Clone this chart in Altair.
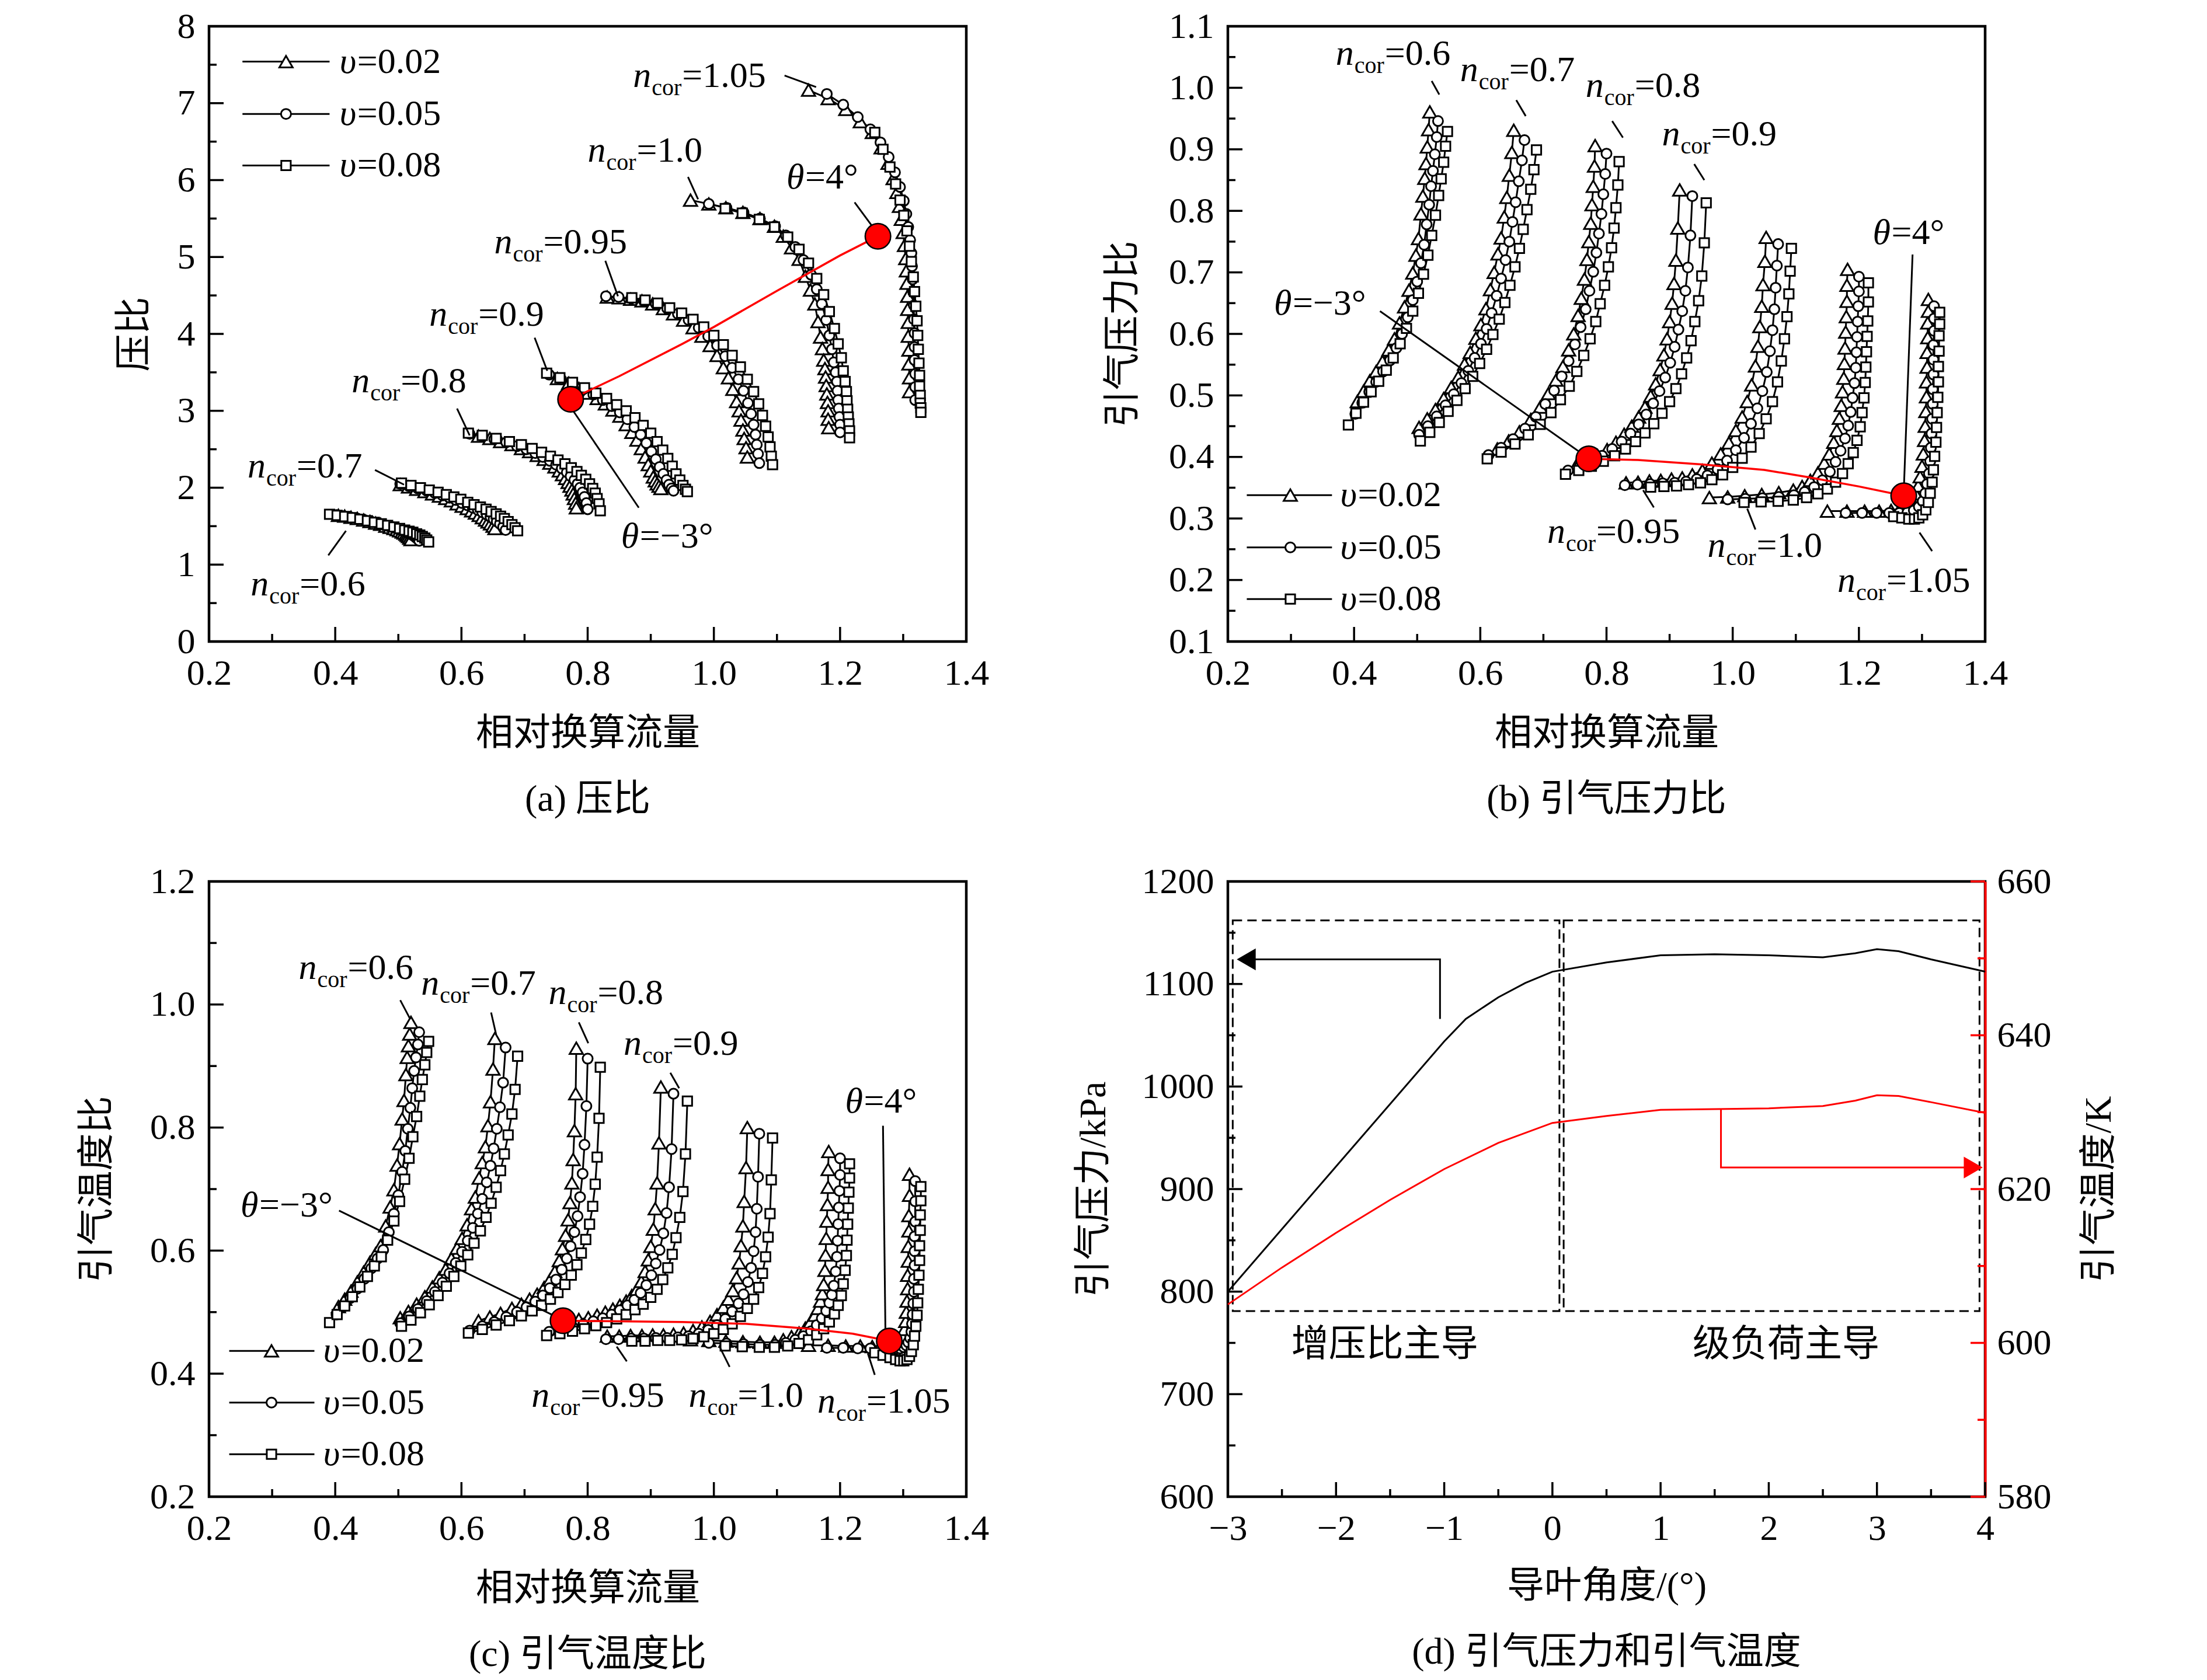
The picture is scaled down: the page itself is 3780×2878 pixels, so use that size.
import altair as alt
import pandas as pd

SERIF = "Liberation Serif"
MIXED = "Liberation Serif, Noto Sans CJK SC"
W, H = 1297, 1054
RED = "#ff0000"

# ------------------------------------------------------------------
# Speed lines.  X = relative corrected flow,
# PR = pressure ratio (a), BPR = bleed pressure ratio (b),
# BTR = bleed temperature ratio (c).  Suffix: n_cor and bleed ratio v.
# ------------------------------------------------------------------
X_060_002 = [0.405,0.415,0.425,0.435,0.445,0.455,0.464,0.472,0.480,0.487,0.493,0.498,0.502,0.506,0.509,0.512,0.514,0.516,0.518,0.520]
PR_060_002 = [1.64,1.63,1.615,1.60,1.58,1.56,1.54,1.525,1.50,1.485,1.47,1.455,1.44,1.425,1.41,1.395,1.38,1.365,1.345,1.325]
BPR_060_002 = [0.490,0.507,0.524,0.539,0.555,0.574,0.592,0.618,0.644,0.671,0.699,0.728,0.755,0.795,0.824,0.853,0.877,0.904,0.932,0.961]
BTR_060_002 = [0.509,0.521,0.534,0.549,0.565,0.581,0.595,0.608,0.640,0.671,0.699,0.739,0.774,0.814,0.844,0.886,0.914,0.933,0.952,0.971]
X_060_005 = [0.402,0.413,0.424,0.435,0.446,0.457,0.467,0.476,0.485,0.493,0.500,0.506,0.511,0.515,0.519,0.522,0.525,0.528,0.531,0.533]
PR_060_005 = [1.645,1.63,1.615,1.60,1.58,1.56,1.54,1.52,1.50,1.48,1.46,1.445,1.43,1.415,1.40,1.385,1.37,1.35,1.33,1.31]
BPR_060_005 = [0.470,0.488,0.506,0.522,0.539,0.557,0.577,0.600,0.627,0.655,0.685,0.715,0.745,0.778,0.810,0.840,0.865,0.892,0.920,0.946]
BTR_060_005 = [0.496,0.509,0.523,0.538,0.554,0.571,0.587,0.601,0.630,0.660,0.690,0.728,0.762,0.798,0.832,0.864,0.892,0.914,0.935,0.955]
X_060_008 = [0.391,0.403,0.415,0.427,0.439,0.451,0.462,0.473,0.483,0.493,0.502,0.510,0.517,0.523,0.529,0.534,0.538,0.542,0.545,0.548]
PR_060_008 = [1.655,1.64,1.625,1.61,1.59,1.57,1.55,1.53,1.51,1.49,1.47,1.45,1.435,1.42,1.40,1.385,1.365,1.345,1.32,1.295]
BPR_060_008 = [0.452,0.471,0.489,0.506,0.523,0.541,0.561,0.584,0.609,0.637,0.666,0.697,0.728,0.760,0.793,0.825,0.852,0.879,0.905,0.929]
BTR_060_008 = [0.483,0.496,0.510,0.525,0.541,0.558,0.575,0.590,0.617,0.648,0.680,0.716,0.750,0.785,0.818,0.851,0.878,0.902,0.922,0.940]

X_070_002 = [0.503,0.516,0.529,0.542,0.554,0.565,0.575,0.584,0.593,0.601,0.609,0.616,0.622,0.628,0.633,0.638,0.642,0.646,0.650,0.653]
PR_070_002 = [2.04,2.01,1.98,1.95,1.92,1.89,1.86,1.83,1.79,1.76,1.73,1.70,1.67,1.64,1.61,1.58,1.555,1.53,1.50,1.47]
BPR_070_002 = [0.448,0.462,0.477,0.495,0.513,0.530,0.551,0.570,0.593,0.615,0.641,0.672,0.700,0.730,0.756,0.790,0.822,0.858,0.895,0.931]
BTR_070_002 = [0.491,0.501,0.513,0.525,0.541,0.556,0.570,0.587,0.604,0.620,0.642,0.668,0.687,0.718,0.743,0.769,0.803,0.842,0.895,0.945]
X_070_005 = [0.503,0.517,0.531,0.545,0.558,0.570,0.581,0.591,0.601,0.610,0.618,0.626,0.633,0.640,0.646,0.651,0.656,0.661,0.666,0.670]
PR_070_005 = [2.05,2.02,1.99,1.96,1.93,1.90,1.87,1.84,1.80,1.77,1.74,1.71,1.68,1.65,1.62,1.59,1.56,1.53,1.49,1.45]
BPR_070_005 = [0.436,0.450,0.466,0.484,0.502,0.520,0.540,0.561,0.584,0.608,0.634,0.662,0.690,0.720,0.750,0.782,0.814,0.848,0.882,0.915]
BTR_070_005 = [0.482,0.493,0.505,0.518,0.533,0.548,0.563,0.580,0.598,0.616,0.637,0.660,0.684,0.711,0.738,0.766,0.798,0.833,0.873,0.930]
X_070_008 = [0.505,0.520,0.535,0.549,0.563,0.576,0.588,0.599,0.610,0.620,0.630,0.639,0.647,0.655,0.662,0.668,0.674,0.680,0.685,0.689]
PR_070_008 = [2.06,2.03,2.00,1.97,1.94,1.91,1.88,1.85,1.81,1.78,1.75,1.72,1.69,1.66,1.63,1.60,1.56,1.52,1.48,1.44]
BPR_070_008 = [0.426,0.440,0.456,0.474,0.492,0.511,0.531,0.552,0.575,0.599,0.624,0.651,0.679,0.709,0.739,0.770,0.802,0.835,0.867,0.899]
BTR_070_008 = [0.477,0.487,0.499,0.512,0.527,0.542,0.558,0.575,0.593,0.612,0.632,0.654,0.677,0.703,0.730,0.757,0.788,0.822,0.862,0.916]

X_080_002 = [0.627,0.645,0.662,0.680,0.695,0.708,0.720,0.731,0.740,0.748,0.755,0.760,0.765,0.769,0.772,0.775,0.777,0.779,0.781,0.782]
PR_080_002 = [2.67,2.64,2.60,2.56,2.51,2.47,2.42,2.37,2.32,2.27,2.22,2.17,2.12,2.07,2.02,1.97,1.92,1.86,1.80,1.74]
BPR_080_002 = [0.413,0.426,0.441,0.461,0.481,0.503,0.525,0.547,0.574,0.600,0.630,0.658,0.689,0.721,0.750,0.780,0.810,0.840,0.873,0.906]
BTR_080_002 = [0.486,0.492,0.498,0.506,0.513,0.521,0.529,0.540,0.552,0.566,0.584,0.603,0.625,0.650,0.678,0.710,0.748,0.795,0.855,0.929]
X_080_005 = [0.613,0.633,0.652,0.671,0.688,0.703,0.717,0.729,0.740,0.750,0.759,0.767,0.773,0.779,0.784,0.788,0.792,0.795,0.798,0.800]
PR_080_005 = [2.70,2.67,2.63,2.59,2.54,2.50,2.45,2.40,2.35,2.30,2.25,2.20,2.15,2.10,2.05,2.00,1.94,1.88,1.80,1.72]
BPR_080_005 = [0.403,0.415,0.429,0.446,0.465,0.486,0.508,0.531,0.556,0.583,0.611,0.640,0.670,0.701,0.732,0.763,0.795,0.827,0.860,0.893]
BTR_080_005 = [0.470,0.477,0.484,0.492,0.500,0.508,0.517,0.527,0.539,0.553,0.569,0.587,0.607,0.630,0.656,0.687,0.725,0.772,0.835,0.912]
X_080_008 = [0.611,0.633,0.655,0.676,0.695,0.712,0.727,0.741,0.753,0.764,0.774,0.783,0.790,0.797,0.803,0.808,0.812,0.815,0.818,0.820]
PR_080_008 = [2.71,2.68,2.64,2.60,2.56,2.51,2.46,2.41,2.36,2.31,2.26,2.21,2.16,2.11,2.05,1.99,1.93,1.86,1.79,1.70]
BPR_080_008 = [0.397,0.408,0.421,0.436,0.453,0.472,0.493,0.515,0.539,0.565,0.592,0.620,0.649,0.679,0.709,0.740,0.772,0.805,0.842,0.880]
BTR_080_008 = [0.466,0.472,0.479,0.486,0.494,0.502,0.511,0.521,0.532,0.545,0.560,0.577,0.596,0.618,0.643,0.672,0.708,0.752,0.815,0.898]

X_090_002 = [0.752,0.770,0.786,0.801,0.815,0.828,0.840,0.851,0.861,0.870,0.878,0.885,0.891,0.896,0.900,0.904,0.907,0.910,0.913,0.916]
PR_090_002 = [3.42,3.36,3.29,3.23,3.16,3.09,3.01,2.93,2.82,2.72,2.62,2.51,2.40,2.30,2.22,2.14,2.09,2.05,2.02,1.99]
BPR_090_002 = [0.386,0.395,0.402,0.412,0.424,0.437,0.450,0.465,0.481,0.499,0.519,0.542,0.566,0.592,0.620,0.650,0.682,0.720,0.772,0.834]
BTR_090_002 = [0.482,0.485,0.488,0.491,0.495,0.500,0.505,0.511,0.518,0.527,0.537,0.550,0.566,0.585,0.607,0.635,0.668,0.710,0.775,0.866]
X_090_005 = [0.739,0.758,0.776,0.793,0.809,0.824,0.838,0.851,0.863,0.874,0.884,0.893,0.901,0.908,0.914,0.920,0.925,0.929,0.933,0.936]
PR_090_005 = [3.47,3.41,3.35,3.28,3.21,3.14,3.06,2.98,2.89,2.79,2.69,2.58,2.47,2.37,2.27,2.18,2.10,2.04,1.99,1.96]
BPR_090_005 = [0.378,0.385,0.393,0.402,0.413,0.425,0.438,0.453,0.469,0.487,0.507,0.529,0.553,0.579,0.607,0.637,0.670,0.708,0.760,0.824]
BTR_090_005 = [0.468,0.472,0.476,0.480,0.485,0.490,0.496,0.503,0.511,0.520,0.531,0.544,0.560,0.579,0.601,0.628,0.661,0.703,0.765,0.855]
X_090_008 = [0.735,0.756,0.776,0.795,0.813,0.830,0.846,0.861,0.875,0.888,0.900,0.910,0.919,0.927,0.934,0.940,0.946,0.951,0.955,0.958]
PR_090_008 = [3.49,3.43,3.37,3.30,3.23,3.16,3.08,3.00,2.91,2.81,2.71,2.60,2.49,2.38,2.28,2.18,2.10,2.03,1.98,1.95]
BPR_090_008 = [0.372,0.378,0.385,0.393,0.402,0.413,0.425,0.439,0.454,0.471,0.490,0.511,0.535,0.561,0.589,0.620,0.654,0.694,0.748,0.813]
BTR_090_008 = [0.462,0.465,0.469,0.473,0.478,0.483,0.489,0.496,0.504,0.513,0.524,0.537,0.553,0.572,0.594,0.621,0.654,0.696,0.757,0.843]

X_095_002 = [0.831,0.850,0.868,0.886,0.903,0.920,0.936,0.952,0.967,0.981,0.994,1.005,1.015,1.023,1.030,1.036,1.040,1.043,1.046,1.048,1.051,1.053]
PR_095_002 = [4.48,4.47,4.45,4.43,4.39,4.33,4.26,4.18,4.08,3.97,3.85,3.72,3.56,3.43,3.28,3.12,3.00,2.88,2.75,2.64,2.52,2.40]
BPR_095_002 = [0.358,0.359,0.361,0.362,0.364,0.366,0.371,0.378,0.390,0.405,0.423,0.443,0.465,0.490,0.517,0.548,0.580,0.612,0.645,0.680,0.718,0.757]
BTR_095_002 = [0.461,0.461,0.462,0.462,0.463,0.463,0.464,0.466,0.470,0.476,0.485,0.496,0.508,0.521,0.535,0.556,0.580,0.608,0.640,0.680,0.735,0.800]
X_095_005 = [0.829,0.849,0.869,0.889,0.908,0.926,0.943,0.960,0.976,0.991,1.005,1.018,1.029,1.039,1.047,1.054,1.059,1.063,1.066,1.068,1.070,1.072]
PR_095_005 = [4.49,4.48,4.46,4.43,4.39,4.33,4.26,4.18,4.08,3.97,3.85,3.71,3.56,3.41,3.26,3.10,2.96,2.82,2.69,2.56,2.44,2.32]
BPR_095_005 = [0.354,0.355,0.356,0.357,0.358,0.360,0.364,0.370,0.380,0.394,0.411,0.431,0.454,0.479,0.507,0.538,0.572,0.606,0.640,0.675,0.711,0.746]
BTR_095_005 = [0.456,0.456,0.457,0.457,0.458,0.458,0.459,0.461,0.465,0.471,0.479,0.489,0.501,0.514,0.529,0.549,0.572,0.599,0.630,0.668,0.720,0.790]
X_095_008 = [0.870,0.891,0.911,0.930,0.949,0.967,0.984,1.000,1.015,1.029,1.042,1.053,1.063,1.071,1.077,1.082,1.086,1.089,1.091,1.093]
PR_095_008 = [4.47,4.44,4.40,4.34,4.27,4.19,4.09,3.98,3.86,3.72,3.57,3.41,3.25,3.09,2.94,2.80,2.66,2.53,2.41,2.30]
BPR_095_008 = [0.351,0.352,0.353,0.355,0.358,0.363,0.371,0.383,0.398,0.416,0.438,0.462,0.490,0.522,0.556,0.592,0.628,0.665,0.702,0.739]
BTR_095_008 = [0.453,0.453,0.454,0.454,0.455,0.457,0.460,0.465,0.472,0.481,0.493,0.506,0.521,0.540,0.563,0.590,0.622,0.660,0.715,0.783]

X_100_002 = [0.963,0.992,1.019,1.046,1.073,1.096,1.110,1.123,1.135,1.145,1.153,1.160,1.165,1.169,1.172,1.174,1.176,1.177,1.178,1.179,1.180,1.181,1.181,1.182]
PR_100_002 = [5.74,5.69,5.64,5.58,5.50,5.40,5.27,5.12,4.97,4.75,4.57,4.39,4.16,3.96,3.81,3.66,3.55,3.44,3.33,3.22,3.11,3.00,2.89,2.78]
BPR_100_002 = [0.334,0.335,0.337,0.339,0.342,0.346,0.352,0.362,0.374,0.390,0.405,0.424,0.443,0.463,0.484,0.506,0.528,0.552,0.577,0.603,0.628,0.653,0.679,0.705]
BTR_100_002 = [0.455,0.454,0.453,0.452,0.451,0.451,0.455,0.460,0.466,0.474,0.484,0.495,0.506,0.518,0.530,0.545,0.568,0.593,0.620,0.648,0.675,0.703,0.732,0.761]
X_100_005 = [0.992,1.020,1.047,1.073,1.097,1.114,1.129,1.142,1.154,1.163,1.171,1.178,1.183,1.187,1.190,1.193,1.195,1.196,1.197,1.198,1.199,1.200,1.200]
PR_100_005 = [5.69,5.64,5.58,5.50,5.40,5.28,5.13,4.96,4.77,4.58,4.39,4.18,3.98,3.80,3.63,3.50,3.38,3.26,3.14,3.03,2.92,2.82,2.72]
BPR_100_005 = [0.331,0.332,0.333,0.335,0.338,0.343,0.351,0.362,0.376,0.392,0.410,0.430,0.451,0.473,0.496,0.520,0.545,0.570,0.595,0.620,0.645,0.669,0.693]
BTR_100_005 = [0.450,0.449,0.448,0.447,0.447,0.450,0.455,0.461,0.469,0.479,0.490,0.502,0.515,0.528,0.543,0.566,0.590,0.616,0.643,0.670,0.697,0.723,0.750]
X_100_008 = [1.018,1.045,1.072,1.096,1.117,1.135,1.150,1.163,1.174,1.183,1.191,1.197,1.202,1.205,1.208,1.210,1.211,1.212,1.213,1.214,1.215,1.215]
PR_100_008 = [5.63,5.57,5.49,5.39,5.26,5.10,4.92,4.72,4.51,4.29,4.07,3.87,3.69,3.52,3.38,3.25,3.13,3.02,2.92,2.83,2.74,2.65]
BPR_100_008 = [0.326,0.327,0.328,0.330,0.334,0.340,0.348,0.359,0.373,0.389,0.407,0.427,0.449,0.472,0.496,0.521,0.546,0.571,0.596,0.621,0.652,0.683]
BTR_100_008 = [0.445,0.444,0.443,0.443,0.445,0.449,0.455,0.463,0.473,0.484,0.497,0.511,0.527,0.546,0.568,0.592,0.617,0.643,0.669,0.695,0.718,0.741]

X_105_002 = [1.150,1.181,1.209,1.232,1.251,1.265,1.276,1.284,1.290,1.294,1.297,1.300,1.302,1.304,1.305,1.306,1.307,1.307,1.308,1.308,1.309,1.309,1.310,1.310]
PR_105_002 = [7.17,7.06,6.92,6.76,6.62,6.42,6.22,6.02,5.84,5.66,5.49,5.32,5.15,4.98,4.82,4.66,4.49,4.32,4.15,3.97,3.79,3.61,3.43,3.25]
BPR_105_002 = [0.312,0.312,0.312,0.312,0.313,0.316,0.322,0.329,0.340,0.353,0.368,0.385,0.405,0.427,0.450,0.474,0.498,0.522,0.546,0.570,0.594,0.618,0.637,0.656]
BTR_105_002 = [0.446,0.446,0.445,0.445,0.444,0.444,0.444,0.445,0.447,0.450,0.455,0.462,0.472,0.485,0.500,0.518,0.538,0.560,0.583,0.607,0.632,0.657,0.690,0.724]
X_105_005 = [1.179,1.205,1.228,1.248,1.264,1.277,1.287,1.295,1.301,1.305,1.308,1.311,1.313,1.314,1.315,1.316,1.317,1.317,1.318,1.318,1.318,1.319,1.319,1.319]
PR_105_005 = [7.12,6.98,6.82,6.66,6.49,6.30,6.10,5.91,5.73,5.56,5.39,5.22,5.05,4.88,4.71,4.54,4.37,4.19,4.01,3.83,3.66,3.48,3.31,3.14]
BPR_105_005 = [0.309,0.309,0.309,0.309,0.309,0.310,0.313,0.319,0.328,0.341,0.356,0.373,0.393,0.415,0.438,0.462,0.486,0.510,0.534,0.558,0.582,0.605,0.625,0.645]
BTR_105_005 = [0.442,0.442,0.441,0.441,0.440,0.440,0.440,0.441,0.443,0.446,0.451,0.458,0.468,0.481,0.496,0.514,0.533,0.554,0.576,0.599,0.623,0.647,0.680,0.713]
X_105_008 = [1.255,1.268,1.279,1.288,1.295,1.301,1.306,1.310,1.313,1.316,1.318,1.320,1.322,1.323,1.324,1.325,1.326,1.326,1.327,1.327,1.328,1.328]
PR_105_008 = [6.62,6.40,6.17,5.95,5.74,5.54,5.34,5.14,4.94,4.74,4.55,4.36,4.17,3.98,3.80,3.62,3.46,3.32,3.20,3.10,3.04,2.98]
BPR_105_008 = [0.303,0.301,0.299,0.299,0.301,0.306,0.314,0.326,0.341,0.359,0.379,0.401,0.424,0.448,0.472,0.497,0.522,0.547,0.572,0.597,0.616,0.635]
BTR_105_008 = [0.434,0.430,0.426,0.423,0.421,0.421,0.423,0.428,0.436,0.447,0.461,0.477,0.495,0.515,0.537,0.560,0.584,0.608,0.633,0.658,0.681,0.704]

CURVES = [
    ("0.6", "0.02", X_060_002, PR_060_002, BPR_060_002, BTR_060_002),
    ("0.6", "0.05", X_060_005, PR_060_005, BPR_060_005, BTR_060_005),
    ("0.6", "0.08", X_060_008, PR_060_008, BPR_060_008, BTR_060_008),
    ("0.7", "0.02", X_070_002, PR_070_002, BPR_070_002, BTR_070_002),
    ("0.7", "0.05", X_070_005, PR_070_005, BPR_070_005, BTR_070_005),
    ("0.7", "0.08", X_070_008, PR_070_008, BPR_070_008, BTR_070_008),
    ("0.8", "0.02", X_080_002, PR_080_002, BPR_080_002, BTR_080_002),
    ("0.8", "0.05", X_080_005, PR_080_005, BPR_080_005, BTR_080_005),
    ("0.8", "0.08", X_080_008, PR_080_008, BPR_080_008, BTR_080_008),
    ("0.9", "0.02", X_090_002, PR_090_002, BPR_090_002, BTR_090_002),
    ("0.9", "0.05", X_090_005, PR_090_005, BPR_090_005, BTR_090_005),
    ("0.9", "0.08", X_090_008, PR_090_008, BPR_090_008, BTR_090_008),
    ("0.95", "0.02", X_095_002, PR_095_002, BPR_095_002, BTR_095_002),
    ("0.95", "0.05", X_095_005, PR_095_005, BPR_095_005, BTR_095_005),
    ("0.95", "0.08", X_095_008, PR_095_008, BPR_095_008, BTR_095_008),
    ("1.0", "0.02", X_100_002, PR_100_002, BPR_100_002, BTR_100_002),
    ("1.0", "0.05", X_100_005, PR_100_005, BPR_100_005, BTR_100_005),
    ("1.0", "0.08", X_100_008, PR_100_008, BPR_100_008, BTR_100_008),
    ("1.05", "0.02", X_105_002, PR_105_002, BPR_105_002, BTR_105_002),
    ("1.05", "0.05", X_105_005, PR_105_005, BPR_105_005, BTR_105_005),
    ("1.05", "0.08", X_105_008, PR_105_008, BPR_105_008, BTR_105_008),
]

# theta operating lines (red) and their end points
RED_A_X = [0.773, 0.85, 0.95, 1.0, 1.1, 1.2, 1.26]
RED_A_Y = [3.15, 3.45, 3.87, 4.09, 4.56, 5.02, 5.27]
RED_B_X = [0.772, 0.85, 0.95, 1.05, 1.12, 1.2, 1.271]
RED_B_Y = [0.397, 0.395, 0.388, 0.379, 0.367, 0.352, 0.337]
RED_C_X = [0.761, 0.85, 0.95, 1.05, 1.15, 1.22, 1.278]
RED_C_Y = [0.486, 0.485, 0.484, 0.481, 0.473, 0.465, 0.453]

# annotation labels (data coordinates)
NCOR_A_X = [0.872, 0.800, 0.652, 0.549, 0.426, 0.261, 0.266]
NCOR_A_Y = [7.21, 6.24, 5.05, 4.11, 3.24, 2.13, 0.60]
NCOR_A_T = ["=1.05", "=1.0", "=0.95", "=0.9", "=0.8", "=0.7", "=0.6"]
NCOR_B_X = [0.371, 0.568, 0.767, 0.888, 0.706, 0.960, 1.166]
NCOR_B_Y = [1.037, 1.011, 0.985, 0.906, 0.260, 0.238, 0.181]
NCOR_C_X = [0.342, 0.536, 0.738, 0.857, 0.711, 0.960, 1.164]
NCOR_C_Y = [1.042, 1.016, 1.001, 0.918, 0.346, 0.346, 0.337]
NCOR_BC_T = ["=0.6", "=0.7", "=0.8", "=0.9", "=0.95", "=1.0", "=1.05"]
THETA_T = ["=4°", "=−3°"]
THETA_A_X = [1.115, 0.853]
THETA_A_Y = [5.89, 1.22]
THETA_B_X = [1.222, 0.273]
THETA_B_Y = [0.746, 0.631]
THETA_C_X = [1.208, 0.250]
THETA_C_Y = [0.824, 0.655]

LEAD_A_X1 = [1.112, 0.959, 1.223, 0.828, 0.716, 0.593, 0.463, 0.389, 0.777]
LEAD_A_Y1 = [7.36, 6.04, 5.71, 4.95, 3.95, 3.03, 2.23, 1.12, 3.00]
LEAD_A_X2 = [1.162, 0.975, 1.251, 0.848, 0.736, 0.613, 0.509, 0.417, 0.881]
LEAD_A_Y2 = [7.21, 5.75, 5.40, 4.49, 3.52, 2.68, 2.04, 1.44, 1.74]
LEAD_B_X1 = [0.523, 0.657, 0.809, 0.939, 1.285, 0.441, 0.858, 1.023, 1.296]
LEAD_B_Y1 = [1.011, 0.980, 0.946, 0.876, 0.729, 0.637, 0.346, 0.316, 0.277]
LEAD_B_X2 = [0.535, 0.672, 0.826, 0.955, 1.271, 0.770, 0.875, 1.036, 1.316]
LEAD_B_Y2 = [0.989, 0.954, 0.919, 0.850, 0.342, 0.399, 0.318, 0.282, 0.247]
LEAD_C_X1 = [0.503, 0.647, 0.786, 0.931, 1.268, 0.406, 0.846, 1.009, 1.244]
LEAD_C_Y1 = [1.007, 0.987, 0.971, 0.889, 0.803, 0.665, 0.444, 0.444, 0.433]
LEAD_C_X2 = [0.519, 0.655, 0.801, 0.945, 1.272, 0.757, 0.862, 1.025, 1.255]
LEAD_C_Y2 = [0.976, 0.951, 0.937, 0.864, 0.456, 0.489, 0.420, 0.411, 0.398]

# in-plot legends: line start, line end, marker, text start, rows
LEG_A = (0.253, 0.391, 0.322, 0.407, [7.54, 6.86, 6.19])
LEG_B = (0.230, 0.365, 0.299, 0.378, [0.338, 0.253, 0.169])
LEG_C = (0.232, 0.367, 0.299, 0.381, [0.437, 0.353, 0.269])

# tick values
X_MAJOR = [0.2, 0.4, 0.6, 0.8, 1.0, 1.2, 1.4]
X_MINOR = [0.3, 0.5, 0.7, 0.9, 1.1, 1.3]
A_MAJOR = [0, 1, 2, 3, 4, 5, 6, 7, 8]
A_MINOR = [0.5, 1.5, 2.5, 3.5, 4.5, 5.5, 6.5, 7.5]
B_MAJOR = [0.1, 0.2, 0.3, 0.4, 0.5, 0.6, 0.7, 0.8, 0.9, 1.0, 1.1]
B_MINOR = [0.15, 0.25, 0.35, 0.45, 0.55, 0.65, 0.75, 0.85, 0.95, 1.05]
C_MAJOR = [0.2, 0.4, 0.6, 0.8, 1.0, 1.2]
C_MINOR = [0.3, 0.5, 0.7, 0.9, 1.1]

# panel (d)
ANGLE_P = [-3, -2.5, -2, -1.5, -1, -0.8, -0.5, -0.25, 0, 0.5, 1, 1.5, 2, 2.5, 2.8, 3, 3.2, 3.5, 4]
P_BLEED = [800, 861, 922, 983, 1044, 1066, 1087, 1101, 1112, 1121, 1128, 1129, 1128, 1126, 1130, 1134, 1132, 1124, 1112]
ANGLE_T = [-3, -2.5, -2, -1.5, -1, -0.5, 0, 0.5, 1, 1.5, 2, 2.5, 2.8, 3, 3.2, 3.5, 4]
T_BLEED = [605.0, 609.8, 614.3, 618.6, 622.6, 626.0, 628.6, 629.5, 630.3, 630.4, 630.5, 630.8, 631.5, 632.2, 632.1, 631.3, 629.9]
BOX_X1 = [-2.955, 0.104]
BOX_X2 = [0.065, 3.948]
BOX_P1 = [781, 781]
BOX_P2 = [1162, 1162]
REGION_TXT = ["增压比主导", "级负荷主导"]
REGION_X = [-1.55, 2.16]
REGION_P = [748, 748]
ARROW_P_X = [-1.039, -1.039, -2.80]
ARROW_P_Y = [1066, 1124, 1124]
HEAD_P = (-2.83, 1124)
ARROW_T_X = [1.558, 1.558, 3.82]
ARROW_T_Y = [630.4, 622.8, 622.8]
HEAD_T = (3.89, 622.8)
D_X_MAJOR = [-3, -2, -1, 0, 1, 2, 3, 4]
D_X_MINOR = [-2.5, -1.5, -0.5, 0.5, 1.5, 2.5, 3.5]
D_P_MAJOR = [600, 700, 800, 900, 1000, 1100, 1200]
D_P_MINOR = [650, 750, 850, 950, 1050, 1150]
D_T_MAJOR = [580, 600, 620, 640, 660]
D_T_MINOR = [590, 610, 630, 650]

V_LABELS = ["0.02", "0.05", "0.08"]
SHAPE_OF = {"0.02": "triangle-up", "0.05": "circle", "0.08": "square"}
SIZE_OF = {"0.02": 520, "0.05": 290, "0.08": 260}
MAJ_LEN, MIN_LEN = 25, 13

AX_COMMON = dict(labelFont=SERIF, labelFontSize=62, labelColor="black", labelPadding=24, labelFlush=False,
                 titleFont=MIXED, titleFontSize=64, titleFontWeight="normal", titleColor="black",
                 grid=False, ticks=False, domain=False)


def curve_frame(j):
    rows = []
    for n, v, xs_, pr, bpr, btr in CURVES:
        ys_ = (pr, bpr, btr)[j]
        for k, (xv, yv) in enumerate(zip(xs_, ys_)):
            rows.append({"grp": n + "_" + v, "v": v, "k": k, "x": xv, "y": yv})
    return pd.DataFrame(rows)


class Panel:
    """Holds one panel's shared scales and axes so every layer uses identical definitions."""

    def __init__(self, xs, ys, xax, yax):
        self.xs, self.ys, self.xax, self.yax = xs, ys, xax, yax

    def X(self, f):
        return alt.X(f, scale=self.xs, axis=self.xax)

    def Y(self, f):
        return alt.Y(f, scale=self.ys, axis=self.yax)

    def xticks(self, vals, length, color="black"):
        return alt.Chart(pd.DataFrame({"x": vals})).mark_rule(color=color, strokeWidth=3.5).encode(
            x=self.X("x:Q"), y=alt.value(H), y2=alt.value(H - length))

    def yticks(self, vals, length, right=False, color="black"):
        x0 = W if right else 0
        x1 = W - length if right else length
        return alt.Chart(pd.DataFrame({"y": vals})).mark_rule(color=color, strokeWidth=3.5).encode(
            y=self.Y("y:Q"), x=alt.value(x0), x2=alt.value(x1))


def rich_labels(P, xv, yv, tv, head, sub):
    df = pd.DataFrame({"x": xv, "y": yv, "eq": tv})
    base = alt.Chart(df).encode(x=P.X("x:Q"), y=P.Y("y:Q"))
    out = [base.mark_text(text=head, font=SERIF, fontSize=62, fontStyle="italic", align="left",
                          baseline="alphabetic", color="black")]
    eq_dx = 32
    if sub:
        out.append(base.mark_text(text=sub, font=SERIF, fontSize=40, align="left", baseline="alphabetic",
                                  dx=32, dy=14, color="black"))
        eq_dx = 84
    out.append(base.mark_text(font=SERIF, fontSize=62, align="left", baseline="alphabetic", dx=eq_dx,
                              color="black").encode(text="eq:N"))
    return out


def legend_layers(P, leg):
    lx1, lx2, lxm, lxt, lys = leg
    df = pd.DataFrame({"x": [lx1] * 3, "x2": [lx2] * 3, "xm": [lxm] * 3, "xt": [lxt] * 3,
                       "y": lys, "v": V_LABELS, "eq": ["=" + v for v in V_LABELS]})
    out = [alt.Chart(df).mark_rule(color="black", strokeWidth=3).encode(
        x=P.X("x:Q"), x2="x2:Q", y=P.Y("y:Q"))]
    for v in V_LABELS:
        out.append(alt.Chart(df[df.v == v]).mark_point(
            shape=SHAPE_OF[v], size=SIZE_OF[v], filled=True, fill="white", stroke="black",
            strokeWidth=3, opacity=1).encode(x=P.X("xm:Q"), y=P.Y("y:Q")))
    base = alt.Chart(df).encode(x=P.X("xt:Q"), y=P.Y("y:Q"))
    out.append(base.mark_text(text="υ", font=SERIF, fontSize=62, fontStyle="italic", align="left",
                              baseline="middle", color="black"))
    out.append(base.mark_text(font=SERIF, fontSize=62, align="left", baseline="middle", dx=30,
                              color="black").encode(text="eq:N"))
    return out


def caption(text):
    return alt.TitleParams(text, orient="bottom", font=MIXED, fontSize=64, fontWeight="normal",
                           color="black", offset=50, anchor="middle", frame="group")


def ratio_panel(j, ydom, ymaj, ymin, yfmt, ytitle, ytpad, cap, ncor, theta, leads, red, leg):
    xs = alt.Scale(domain=[0.2, 1.4], nice=False, zero=False)
    ys = alt.Scale(domain=ydom, nice=False, zero=False)
    xax = alt.Axis(values=X_MAJOR, format=".1f", title="相对换算流量", titlePadding=40, **AX_COMMON)
    yax = alt.Axis(values=ymaj, format=yfmt, title=ytitle, titlePadding=ytpad, **AX_COMMON)
    P = Panel(xs, ys, xax, yax)
    df = curve_frame(j)
    layers = [alt.Chart(df).mark_line(color="black", strokeWidth=3).encode(
        x=P.X("x:Q"), y=P.Y("y:Q"), detail="grp:N", order="k:Q")]
    layers += [P.xticks(X_MAJOR, MAJ_LEN), P.xticks(X_MINOR, MIN_LEN),
               P.yticks(ymaj, MAJ_LEN), P.yticks(ymin, MIN_LEN)]
    for v in V_LABELS:
        layers.append(alt.Chart(df[df.v == v]).mark_point(
            shape=SHAPE_OF[v], size=SIZE_OF[v], filled=True, fill="white", stroke="black",
            strokeWidth=3, opacity=1).encode(x=P.X("x:Q"), y=P.Y("y:Q")))
    rx, ry = red
    layers.append(alt.Chart(pd.DataFrame({"x": rx, "y": ry})).mark_line(color=RED, strokeWidth=3.5).encode(
        x=P.X("x:Q"), y=P.Y("y:Q")))
    lx1, ly1, lx2, ly2 = leads
    layers.append(alt.Chart(pd.DataFrame({"x": lx1, "y": ly1, "x2": lx2, "y2": ly2})).mark_rule(
        color="black", strokeWidth=3).encode(x=P.X("x:Q"), y=P.Y("y:Q"), x2="x2:Q", y2="y2:Q"))
    layers.append(alt.Chart(pd.DataFrame({"x": [rx[0], rx[-1]], "y": [ry[0], ry[-1]]})).mark_point(
        shape="circle", size=1900, filled=True, fill=RED, stroke="black", strokeWidth=2.5, opacity=1).encode(
        x=P.X("x:Q"), y=P.Y("y:Q")))
    layers += rich_labels(P, ncor[0], ncor[1], ncor[2], "n", "cor")
    layers += rich_labels(P, theta[0], theta[1], THETA_T, "θ", None)
    layers += legend_layers(P, leg)
    return alt.layer(*layers).properties(width=W, height=H, title=caption(cap))


panel_a = ratio_panel(0, [0, 8], A_MAJOR, A_MINOR, "d", "压比", 41, "(a) 压比",
                      (NCOR_A_X, NCOR_A_Y, NCOR_A_T), (THETA_A_X, THETA_A_Y),
                      (LEAD_A_X1, LEAD_A_Y1, LEAD_A_X2, LEAD_A_Y2), (RED_A_X, RED_A_Y), LEG_A)
panel_b = ratio_panel(1, [0.1, 1.1], B_MAJOR, B_MINOR, ".1f", "引气压力比", 46, "(b) 引气压力比",
                      (NCOR_B_X, NCOR_B_Y, NCOR_BC_T), (THETA_B_X, THETA_B_Y),
                      (LEAD_B_X1, LEAD_B_Y1, LEAD_B_X2, LEAD_B_Y2), (RED_B_X, RED_B_Y), LEG_B)
panel_c = ratio_panel(2, [0.2, 1.2], C_MAJOR, C_MINOR, ".1f", "引气温度比", 58, "(c) 引气温度比",
                      (NCOR_C_X, NCOR_C_Y, NCOR_BC_T), (THETA_C_X, THETA_C_Y),
                      (LEAD_C_X1, LEAD_C_Y1, LEAD_C_X2, LEAD_C_Y2), (RED_C_X, RED_C_Y), LEG_C)

# ---------------- panel (d) ----------------
dxs = alt.Scale(domain=[-3, 4], nice=False, zero=False)
dps = alt.Scale(domain=[600, 1200], nice=False, zero=False)
dts = alt.Scale(domain=[580, 660], nice=False, zero=False)
dxax = alt.Axis(values=D_X_MAJOR, format="d", title="导叶角度/(°)", titlePadding=36, **AX_COMMON)
dpax = alt.Axis(values=D_P_MAJOR, format="d", title="引气压力/kPa", titlePadding=50, **AX_COMMON)
tax_opts = dict(AX_COMMON)
tax_opts.update(domain=True, domainColor=RED, domainWidth=4, labelPadding=20)
dtax = alt.Axis(orient="right", values=D_T_MAJOR, format="d", title="引气温度/K", titleAngle=270,
                titleBaseline="top", titlePadding=50, **tax_opts)
PL = Panel(dxs, dps, dxax, dpax)
PR_ = Panel(dxs, dts, dxax, dtax)

p_line = alt.Chart(pd.DataFrame({"x": ANGLE_P, "y": P_BLEED})).mark_line(color="black", strokeWidth=3).encode(
    x=PL.X("x:Q"), y=PL.Y("y:Q"))
boxes = alt.Chart(pd.DataFrame({"x": BOX_X1, "x2": BOX_X2, "y": BOX_P1, "y2": BOX_P2})).mark_rect(
    fillOpacity=0, stroke="black", strokeWidth=3, strokeDash=[16, 9]).encode(
    x=PL.X("x:Q"), x2="x2:Q", y=PL.Y("y:Q"), y2="y2:Q")
arrow_p = alt.Chart(pd.DataFrame({"x": ARROW_P_X, "y": ARROW_P_Y, "k": [0, 1, 2]})).mark_line(
    color="black", strokeWidth=3).encode(x=PL.X("x:Q"), y=PL.Y("y:Q"), order="k:Q")
head_p = alt.Chart(pd.DataFrame({"x": [HEAD_P[0]], "y": [HEAD_P[1]]})).mark_point(
    shape="triangle-left", size=1400, filled=True, fill="black", opacity=1).encode(
    x=PL.X("x:Q"), y=PL.Y("y:Q"))
region = alt.Chart(pd.DataFrame({"x": REGION_X, "y": REGION_P, "t": REGION_TXT})).mark_text(
    font=MIXED, fontSize=64, align="center", baseline="middle", color="black").encode(
    x=PL.X("x:Q"), y=PL.Y("y:Q"), text="t:N")
left_group = alt.layer(
    p_line,
    PL.xticks(D_X_MAJOR, MAJ_LEN), PL.xticks(D_X_MINOR, MIN_LEN),
    PL.yticks(D_P_MAJOR, MAJ_LEN), PL.yticks(D_P_MINOR, MIN_LEN),
    boxes, arrow_p, head_p, region)

t_line = alt.Chart(pd.DataFrame({"x": ANGLE_T, "y": T_BLEED})).mark_line(color=RED, strokeWidth=3).encode(
    x=PR_.X("x:Q"), y=PR_.Y("y:Q"))
arrow_t = alt.Chart(pd.DataFrame({"x": ARROW_T_X, "y": ARROW_T_Y, "k": [0, 1, 2]})).mark_line(
    color=RED, strokeWidth=3).encode(x=PR_.X("x:Q"), y=PR_.Y("y:Q"), order="k:Q")
head_t = alt.Chart(pd.DataFrame({"x": [HEAD_T[0]], "y": [HEAD_T[1]]})).mark_point(
    shape="triangle-right", size=1400, filled=True, fill=RED, opacity=1).encode(
    x=PR_.X("x:Q"), y=PR_.Y("y:Q"))
right_group = alt.layer(
    t_line,
    PR_.yticks(D_T_MAJOR, MAJ_LEN, right=True, color=RED),
    PR_.yticks(D_T_MINOR, MIN_LEN, right=True, color=RED),
    arrow_t, head_t)

panel_d = alt.layer(left_group, right_group).resolve_scale(y="independent").properties(
    width=W, height=H, title=caption("(d) 引气压力和引气温度"))

chart = alt.concat(panel_a, panel_b, panel_c, panel_d, columns=2,
                   spacing={"row": 411, "column": 448}, bounds="flush", align="all")
chart = chart.properties(padding={"left": 124, "top": 3, "right": 10, "bottom": 0})
chart = chart.configure_view(stroke="black", strokeWidth=4.5)

chart.save("out.html", embed_options={"renderer": "svg", "actions": False})
